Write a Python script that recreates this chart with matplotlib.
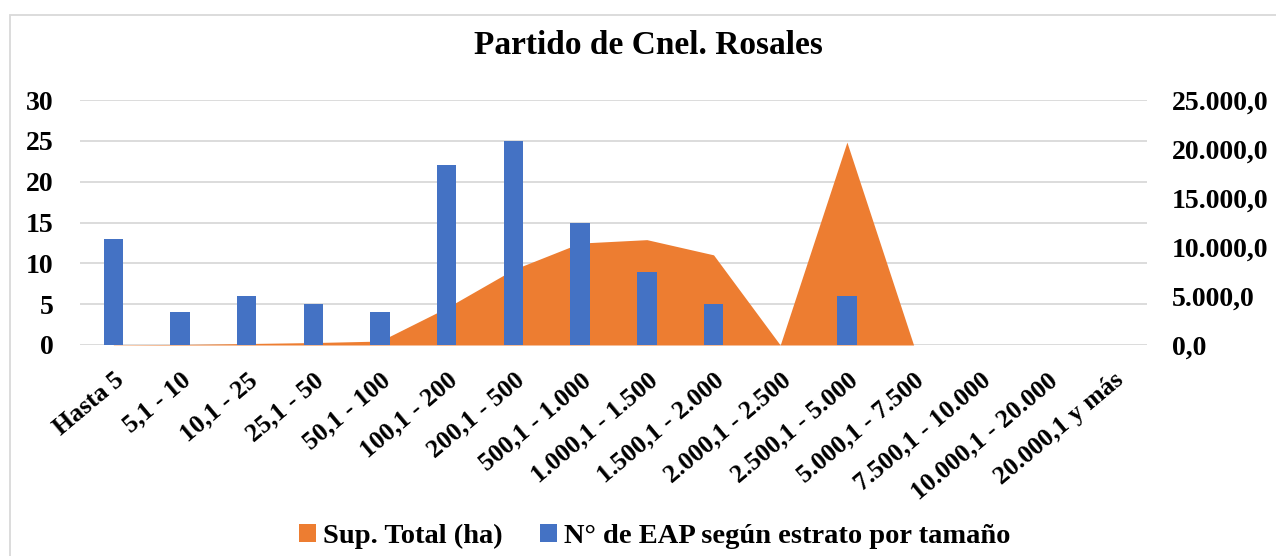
import matplotlib
matplotlib.use("Agg")
import matplotlib.pyplot as plt
from matplotlib.patches import Rectangle, Patch
import numpy as np

categories = ["Hasta 5", "5,1 - 10", "10,1 - 25", "25,1 - 50", "50,1 - 100",
              "100,1 - 200", "200,1 - 500", "500,1 - 1.000", "1.000,1 - 1.500",
              "1.500,1 - 2.000", "2.000,1 - 2.500", "2.500,1 - 5.000",
              "5.000,1 - 7.500", "7.500,1 - 10.000", "10.000,1 - 20.000",
              "20.000,1 y más"]
eap_count = [13, 4, 6, 5, 4, 22, 25, 15, 9, 5, 0, 6, 0, 0, 0, 0]
sup_total = [30, 60, 150, 250, 400, 3800, 7700, 10400, 10750, 9200, 0, 20700, 0, 0, 0, 0]

left_ticks = [0, 5, 10, 15, 20, 25, 30]
right_ticks = [0, 5000, 10000, 15000, 20000, 25000]
right_labels = ["0,0", "5.000,0", "10.000,0", "15.000,0", "20.000,0", "25.000,0"]

title = "Partido de Cnel. Rosales"
series_names = ["Sup. Total (ha)", "N° de EAP según estrato por tamaño"]

ORANGE = "#ED7D31"
BLUE = "#4472C4"
GRID = "#D9D9D9"
FONT = "Liberation Serif"

W, H = 1276, 556
fig = plt.figure(figsize=(W / 100, H / 100), dpi=100)

# outer chart border
fig.patches.append(Rectangle((9.5 / W, -0.1), 1.2, (1 - 14.7 / H) + 0.1,
                             transform=fig.transFigure, fill=False,
                             edgecolor=GRID, linewidth=1.3))

ax_left, ax_right = 80 / W, 1147 / W
ax_top, ax_bottom = 1 - 100 / H, 1 - 345 / H
ax = fig.add_axes([ax_left, ax_bottom, ax_right - ax_left, ax_top - ax_bottom])
ax2 = ax.twinx()   # area, secondary scale
ax3 = ax.twinx()   # bars, primary scale, drawn on top
ax.set_zorder(0)
ax2.set_zorder(1)
ax3.set_zorder(2)
ax2.patch.set_visible(False)
ax3.patch.set_visible(False)

x = np.arange(len(categories))

# grid on primary axis (bottom layer)
ax.set_ylim(0, 30)
ax.set_yticks(left_ticks)
ax.yaxis.grid(True, color=GRID, linewidth=1.3)
ax.set_xlim(-0.5, len(categories) - 0.5)
ax.set_xticks(x)
ax.set_xticklabels(categories, rotation=40, ha="right", va="top",
                   rotation_mode="anchor",
                   fontfamily=FONT, fontweight="bold", fontsize=18.5)

# area on secondary axis
ax2.fill_between(x, sup_total, 0, color=ORANGE, linewidth=0)
ax2.set_ylim(0, 25000)
ax2.set_yticks(right_ticks)
ax2.set_yticklabels(right_labels)

# bars on top
ax3.bar(x, eap_count, width=0.29, color=BLUE)
ax3.set_ylim(0, 30)
ax3.set_yticks([])
ax3.set_xlim(-0.5, len(categories) - 0.5)

for a in (ax, ax2, ax3):
    for s in a.spines.values():
        s.set_visible(False)
    a.tick_params(length=0)

ax.tick_params(axis="y", pad=19)
ax.tick_params(axis="x", pad=17)
ax2.tick_params(axis="y", pad=18)
for lab in ax.get_yticklabels() + ax2.get_yticklabels():
    lab.set_fontfamily(FONT)
    lab.set_fontweight("bold")
    lab.set_fontsize(20)

fig.text(648 / W, 1 - 46 / H, title, ha="center", va="center",
         fontfamily=FONT, fontweight="bold", fontsize=24)

handles = [Patch(facecolor=ORANGE, edgecolor="none"),
           Patch(facecolor=BLUE, edgecolor="none")]
fig.legend(handles, series_names, loc="center", bbox_to_anchor=(655 / W, 1 - 536 / H),
           ncol=2, frameon=False, handlelength=0.6, handleheight=0.6,
           handletextpad=0.25, columnspacing=1.3,
           prop={"family": FONT, "weight": "bold", "size": 20.5})

fig.savefig("out.png", dpi=100)
